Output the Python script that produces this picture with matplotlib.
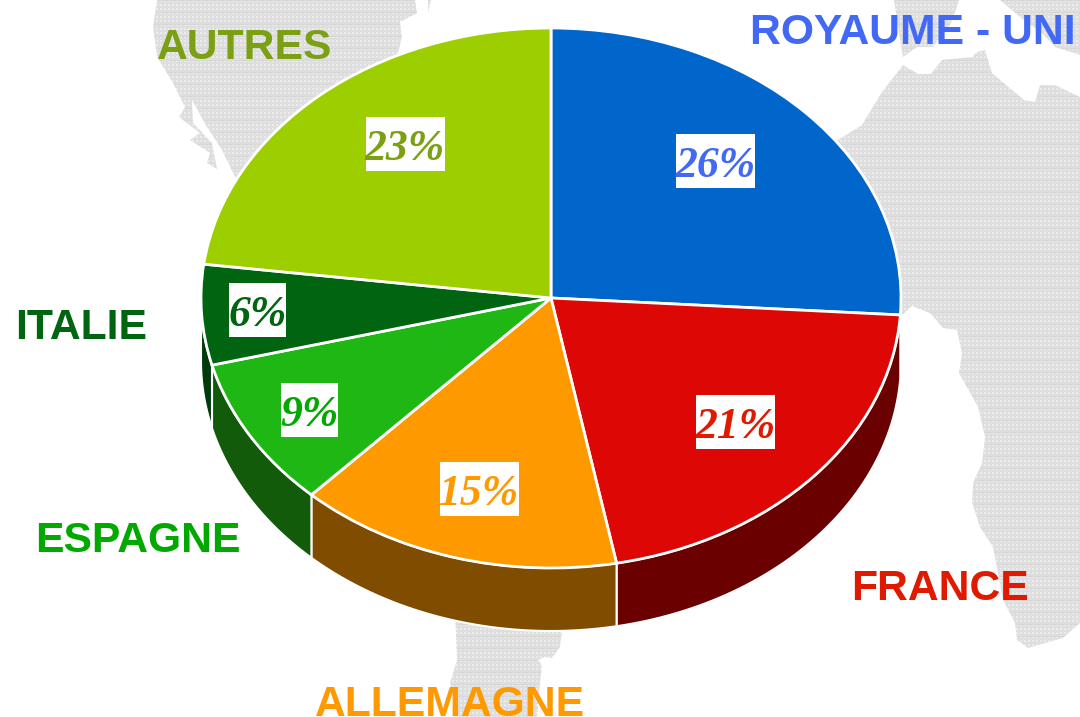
import numpy as np
import matplotlib
matplotlib.use('Agg')
import matplotlib.pyplot as plt
from matplotlib.patches import Polygon, Rectangle

countries = ['ROYAUME - UNI', 'FRANCE', 'ALLEMAGNE', 'ESPAGNE', 'ITALIE', 'AUTRES']
shares = [26, 21, 15, 9, 6, 23]

top_colors = ['#0066CC', '#DD0805', '#FF9900', '#1FB714', '#006411', '#9DCE00']
side_colors = ['#003366', '#6B0000', '#804D00', '#115B0B', '#003B0C', '#4F6700']
label_colors = ['#4169F5', '#E01A00', '#FF9900', '#00A800', '#006411', '#7BA013']

# label places, in image pixels (name = centre x + baseline y, pct = box centre)
name_xy = [(913, 44), (940, 600), (449.5, 716), (137.5, 552), (81, 339), (244.5, 59)]
pct_xy = [(715.5, 161), (735.5, 422), (479.5, 489), (309.5, 410), (257.5, 310), (405, 144)]

# background map outlines, in image pixels
land = [
    [(157, 0), (153, 27), (157, 57), (173, 83), (185, 107), (179, 117), (200, 133), (190, 140),
     (210, 153), (207, 163), (217, 169), (212, 143), (193, 123), (192, 100), (207, 127), (222, 150),
     (235, 177), (300, 200), (397, 57), (402, 37), (400, 22), (417, 13), (415, 0)],
    [(428, 0), (431, 0), (428, 13)],
    [(894, 0), (899, 33), (903, 57), (917, 47), (933, 47), (950, 25), (957, 7), (959, 0)],
    [(1000, 0), (1020, 17), (1042, 33), (1055, 47), (1080, 55), (1080, 0)],
    [(800, 200), (838, 140), (862, 125), (882, 92), (903, 65), (918, 74), (931, 74), (942, 60),
     (972, 57), (977, 52), (985, 50), (992, 73), (1024, 100), (1035, 102), (1040, 85), (1055, 85),
     (1080, 97), (1080, 623), (1063, 638), (1028, 648), (1017, 640), (1015, 623), (1003, 600),
     (993, 547), (980, 527), (972, 502), (973, 483), (982, 463), (985, 437), (978, 407), (959, 373),
     (962, 353), (957, 330), (943, 328), (930, 313), (912, 306), (900, 317)],
    [(455, 610), (457, 660), (450, 683), (458, 717), (537, 717), (540, 683), (542, 665), (538, 660),
     (545, 657), (552, 658), (560, 647), (565, 610)],
]

cx, cy = 551, 298
rx, ry = 350, 270
depth = 63 / ry

fig = plt.figure(figsize=(10.8, 7.17), dpi=100)

# map layer
bg = fig.add_axes([0, 0, 1, 1])
yy, xx = np.mgrid[0:717, 0:1080]
tex = np.full(xx.shape, 0.87)
tex[(xx % 4 < 2) & (yy % 4 < 2)] = 0.92
tex[yy % 12 == 0] = 0.84
for pts in land:
    im = bg.imshow(tex, cmap='gray', vmin=0, vmax=1, extent=(0, 1080, 717, 0),
                   interpolation='nearest', aspect='auto')
    im.set_clip_path(Polygon(pts, transform=bg.transData))
bg.set_xlim(0, 1080)
bg.set_ylim(717, 0)
bg.axis('off')

# pie layer, one data unit is the radius on each axis so the circle becomes an ellipse
ax = fig.add_axes([0, 0, 1, 1], zorder=1)
ax.patch.set_alpha(0)

edges = np.cumsum([0] + shares) * 3.6
for i in range(len(shares)):
    lo = max(edges[i], 90)
    hi = min(edges[i + 1], 270)
    if hi <= lo:
        continue
    t = np.radians(np.linspace(lo, hi, 60))
    xs = np.concatenate([np.sin(t), np.sin(t[::-1])])
    ys = np.concatenate([np.cos(t), np.cos(t[::-1]) - depth])
    ax.fill(xs, ys, facecolor=side_colors[i], edgecolor='white', linewidth=1.5, zorder=1)

wedges, _ = ax.pie(shares, colors=top_colors, startangle=90, counterclock=False, radius=1,
                   wedgeprops={'edgecolor': 'white', 'linewidth': 2})
for w in wedges:
    w.set_zorder(2)
ax.set_aspect('auto')
ax.set_xlim(-cx / rx, (1080 - cx) / rx)
ax.set_ylim(-(717 - cy) / ry, cy / ry)
ax.axis('off')

for name, share, col, nxy, pxy in zip(countries, shares, label_colors, name_xy, pct_xy):
    ax.text(nxy[0], nxy[1], name, transform=bg.transData, color=col, fontsize=30.7,
            family='Liberation Sans', fontweight='bold', ha='center', va='baseline', zorder=5)
    # white box behind the percentage, a bit wider for two digits
    w = 35 + 22 * len(str(share))
    ax.add_patch(Rectangle((pxy[0] - w / 2, pxy[1] - 27), w, 54, transform=bg.transData,
                           facecolor='white', edgecolor='none', zorder=4))
    ax.text(pxy[0], pxy[1] + 16, '%d%%' % share, transform=bg.transData, color=col, fontsize=31.5,
            family='Liberation Serif', fontweight='bold', style='italic', ha='center', va='baseline',
            zorder=5)

plt.savefig('out.png', dpi=100)
